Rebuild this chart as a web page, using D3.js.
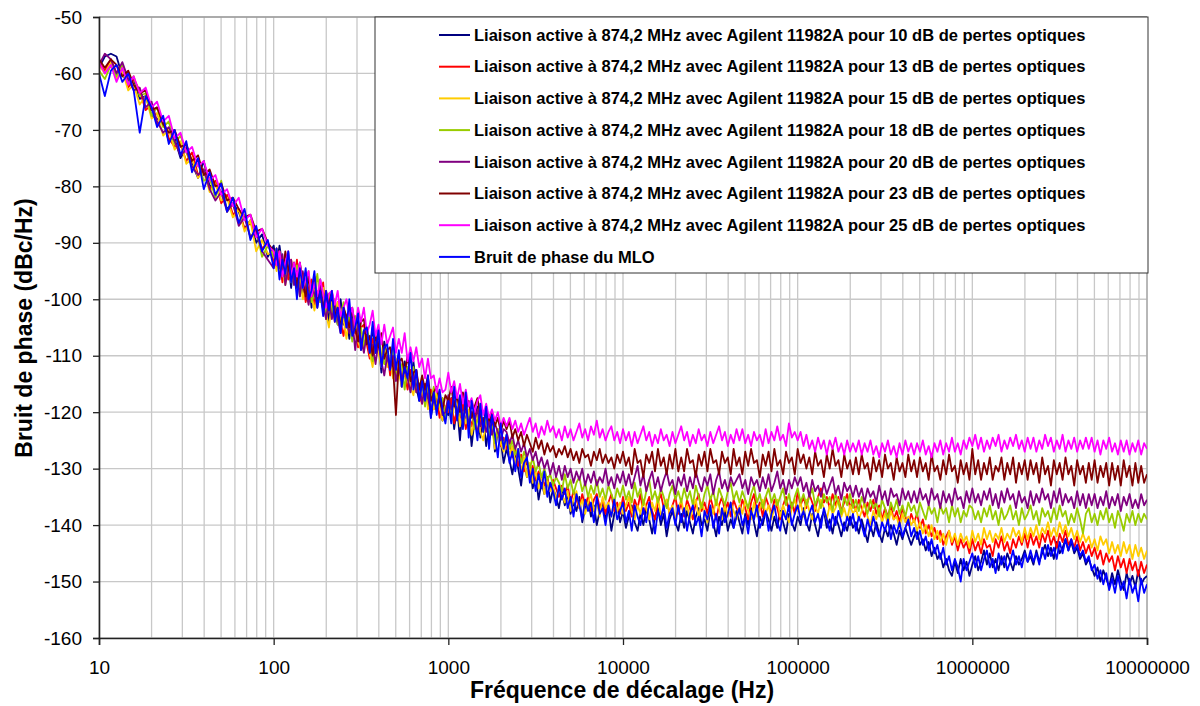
<!DOCTYPE html>
<html><head><meta charset="utf-8">
<script src="https://cdn.jsdelivr.net/npm/d3@7"></script>
<style>body{margin:0;background:#fff} svg{display:block} text{font-family:Arial,"Liberation Sans",sans-serif}</style>
</head><body><svg id="c" width="1200" height="706"></svg>
<script>
// Offset frequencies (Hz)
const freqs=[10,10.8,11.7,12.6,13.6,14.7,15.8,17.1,18.5,20,21.5,23.3,25.1,27.1,29.3,31.6,34.1,36.9,39.8,43,46.4,50.1,54.1,58.4,63.1,68.1,73.6,79.4,85.8,92.6,
100,103.9,108,112.2,116.6,121.2,125.9,130.8,135.9,141.3,146.8,152.5,158.5,164.7,171.1,177.8,184.8,192,199.5,207.3,215.4,223.9,232.6,241.7,251.2,261,271.2,281.8,292.9,304.3,316.2,328.6,341.5,354.8,368.7,383.1,398.1,413.7,429.9,446.7,464.2,482.3,501.2,520.8,541.2,562.3,584.3,607.2,631,655.6,681.3,707.9,735.6,764.3,794.3,825.4,857.7,891.3,926.1,962.4,
1000,1039,1080,1122,1166,1212,1259,1308,1359,1413,1468,1525,1585,1647,1711,1778,1848,1920,1995,2073,2154,2239,2326,2417,2512,2610,2712,2818,2929,3043,3162,3286,3415,3548,3687,3831,3981,4137,4299,4467,4642,4823,5012,5208,5412,5623,5843,6072,6310,6556,6813,7079,7356,7643,7943,8254,8577,8913,9261,9624,
10000,10390,10800,11220,11660,12120,12590,13080,13590,14130,14680,15250,15850,16470,17110,17780,18480,19200,19950,20730,21540,22390,23260,24170,25120,26100,27120,28180,29290,30430,31620,32860,34150,35480,36870,38310,39810,41370,42990,44670,46420,48230,50120,52080,54120,56230,58430,60720,63100,65560,68130,70790,73560,76430,79430,82540,85770,89130,92610,96240,
100000,103900,108000,112200,116600,121200,125900,130800,135900,141300,146800,152500,158500,164700,171100,177800,184800,192000,199500,207300,215400,223900,232600,241700,251200,261000,271200,281800,292900,304300,316200,328600,341500,354800,368700,383100,398100,413700,429900,446700,464200,482300,501200,520800,541200,562300,584300,607200,631000,655600,681300,707900,735600,764300,794300,825400,857700,891300,926100,962400,
1000000,1039000,1080000,1122000,1166000,1212000,1259000,1308000,1359000,1413000,1468000,1525000,1585000,1647000,1711000,1778000,1848000,1920000,1995000,2073000,2154000,2239000,2326000,2417000,2512000,2610000,2712000,2818000,2929000,3043000,3162000,3286000,3415000,3548000,3687000,3831000,3981000,4137000,4299000,4467000,4642000,4823000,5012000,5208000,5412000,5623000,5843000,6072000,6310000,6556000,6813000,7079000,7356000,7643000,7943000,8254000,8577000,8913000,9261000,9624000,
10000000];

const navy10=[-59,-57,-56.5,-57,-60.5,-61,-61,-64.5,-64,-67.5,
-68,-68.5,-72,-71.5,-75,-73,-76,-78.5,-75.5,-80,
-79.5,-81,-84,-83,-84.5,-87.5,-86,-90,-88.5,-92.5,
-90.5,-94,-90.5,-94,-96.5,-93.5,-98,-93.5,-97,-93.5,-99,-97.5,-96,-101.5,-98,-100.5,-96.5,-102,-99.5,-104,
-99.5,-102,-104.5,-100,-104.5,-103,-107,-102.5,-106,-103.5,-109,-105.5,-107,-109.5,-105,-109.5,-107.5,-113,-107.5,-110,
-112.5,-108,-112.5,-111,-115.5,-111,-113,-115.5,-111,-115.5,-118,-114.5,-118,-114.5,-121,-117.5,-119.5,-117,-121.5,-120,
-120.5,-117.5,-123,-119,-125,-118,-122.5,-120,-126,-121.5,-119,-124.5,-121,-126,-122.5,-120.5,-127,-123.5,-125,-129,
-126.5,-128.5,-131,-127.5,-130,-133,-128.5,-131.5,-129.5,-133.5,-131,-135.5,-132.5,-134.5,-131.5,-136,-133.5,-135,-137,-134,
-136.5,-134.5,-138,-136,-137.5,-135,-139.5,-137,-135.5,-138.5,-136.5,-140,-137.5,-136,-139,-137,-141,-138,-136.5,-139.5,
-137.5,-140.5,-138.5,-136.5,-139.5,-141,-138,-140,-137,-139,-141.5,-138.5,-137,-140,-138,-142,-139,-137.5,-139.5,-141,
-138,-140.5,-137.5,-139.5,-141.5,-138.5,-137,-140,-139,-141,-137.5,-139.5,-142,-138.5,-140,-137.5,-141,-139,-140.5,-137.5,
-139.5,-141.5,-138,-140,-137,-139.5,-142,-138.5,-140,-137.5,-139,-141,-138.5,-140.5,-137.5,-139.5,-141.5,-138,-139.5,-141,
-138.5,-140,-137,-139.5,-141,-138,-140,-142,-139,-137.5,-140.5,-139,-141.5,-138.5,-140,-142,-139.5,-141,-138.5,-140.5,
-139.5,-141.5,-139,-141,-143,-140,-142,-139.5,-141.5,-143,-140.5,-142,-140,-141.5,-143.5,-141,-142.5,-140.5,-142,-143.5,
-142,-141,-143.5,-142.5,-144.5,-143,-145.5,-144,-146,-145,-147.5,-146,-148,-149,-146.5,-148.5,-146,-148,-146.5,-149,
-147,-145.5,-148,-146.5,-144.5,-147,-145,-147.5,-146,-148,-145.5,-147.5,-145,-146.5,-148,-145.5,-147,-146,-144.5,-146.5,
-145.5,-147,-144.5,-146.5,-145,-143.5,-145.5,-144,-146,-143,-145,-144,-142.5,-144.5,-143,-145,-144,-146,-145,-147,
-146,-147.5,-149,-147.5,-150,-148,-149.5,-151,-148.5,-150.5,-148,-150,-151.5,-148.5,-150.5,-149,-151,-148,-150.5,-149.5,
-149];

const red13=[-58,-59.5,-57.5,-60,-59,-62.5,-61,-63,-66.5,-65.5,
-69,-68,-71.5,-73,-72.5,-75.5,-74,-78,-77,-80.5,
-79,-83,-81.5,-85,-84,-87.5,-86.5,-88,-91,-90,
-93.5,-91,-93.5,-97,-93.5,-96.5,-93,-96.5,-93,-98.5,-96,-100.5,-98,-96.5,-101,-98.5,-100.5,-97,-103.5,-101,
-100.5,-104,-100.5,-104,-106.5,-103,-102,-106.5,-105,-108.5,-105,-104.5,-108,-110.5,-107,-108.5,-106.5,-111,-110.5,-109,
-113.5,-110,-112.5,-110,-114.5,-113,-116,-112.5,-115,-112.5,-117,-118.5,-115,-117.5,-116,-119.5,-117.5,-121,-117.5,-120,
-120,-117.5,-122,-119.5,-121,-118.5,-123,-120.5,-122.5,-119.5,-124,-121,-123.5,-120.5,-125,-122,-124.5,-123,-126,-124.5,
-126.5,-125,-128,-126.5,-129.5,-127.5,-130.5,-128.5,-131,-129.5,-132,-130.5,-131.5,-133,-131.5,-134,-132,-133.5,-135,-133,
-134.5,-133,-136,-134,-135.5,-137,-134.5,-136.5,-135,-137.5,-135.5,-134.5,-137,-135.5,-138,-136,-134.5,-137.5,-136,-138,
-135,-137.5,-136,-138.5,-135.5,-137,-134.5,-138,-136.5,-135,-137.5,-139,-136,-134.5,-137,-135.5,-138,-136.5,-135,-138,
-136,-138.5,-135.5,-137,-139,-136,-134.5,-137.5,-136,-138,-135,-137,-139,-136.5,-135,-137.5,-136,-138.5,-135.5,-137,
-138,-135.5,-137,-139,-136,-134.5,-137.5,-136,-138.5,-135,-136.5,-138,-135.5,-137,-139,-136.5,-135,-137.5,-136,-138,
-134,-136.5,-135,-137,-134.5,-136,-137.5,-135,-133.5,-136,-135,-137,-134.5,-136.5,-135,-137.5,-136,-134.5,-137,-135.5,
-137.5,-135.5,-137,-138.5,-136,-137.5,-135.5,-138,-136.5,-139,-137,-138.5,-136.5,-139,-137.5,-139.5,-137,-138.5,-140,-138,
-139.5,-138,-140.5,-139,-141.5,-140,-142,-140.5,-142.5,-141,-143.5,-142,-141,-143.5,-142,-144.5,-142.5,-144,-143,-145,
-142.5,-144.5,-143,-145,-142.5,-144,-143.5,-145.5,-142.5,-144,-142,-144.5,-143,-145,-142.5,-144,-142,-143.5,-141.5,-144,
-141.5,-143.5,-142,-144,-141.5,-143,-141,-143.5,-142,-144,-141.5,-143,-141,-143.5,-142.5,-144,-142,-144.5,-143,-145,
-143.5,-145.5,-144,-146,-144.5,-147,-145,-146.5,-145.5,-148,-145.5,-147.5,-146,-148.5,-146,-148,-146.5,-149,-146.5,-148.5,
-147];

const yellow15=[-58.5,-60,-58,-61,-59.5,-63,-62,-65.5,-64,-68,
-67,-71,-70,-73.5,-72,-76,-75,-78.5,-77,-81,
-79.5,-82.5,-82,-85.5,-84,-88,-86,-91.5,-89.5,-92,
-91.5,-95,-91.5,-95,-97.5,-93.5,-95,-93.5,-98,-95.5,-100,-97.5,-96,-99.5,-102,-98.5,-100.5,-98,-102.5,-105,
-100.5,-103,-100.5,-105,-103.5,-107,-103,-105.5,-103,-107.5,-109,-106.5,-106,-109.5,-112,-107.5,-109.5,-112,-108.5,-112,
-110.5,-114,-110.5,-113,-115.5,-113,-112,-115.5,-117,-113.5,-116,-117.5,-115,-119.5,-117,-119.5,-116.5,-119,-121.5,-119,
-118.5,-121.5,-119,-117.5,-122.5,-120,-122,-119.5,-124,-121.5,-120,-123.5,-125,-121.5,-124,-122.5,-126.5,-123,-125.5,-127,
-125,-127.5,-126,-129,-127,-130.5,-128,-131.5,-129,-132.5,-130.5,-133.5,-131,-134.5,-132,-134,-133,-135.5,-133.5,-134.5,
-136,-134,-137.5,-135.5,-134,-137,-135.5,-138,-136,-134.5,-137.5,-136,-138.5,-135,-137,-136,-138.5,-135.5,-137.5,-136,
-138,-136.5,-135,-137.5,-139,-136.5,-138,-135.5,-137,-139,-136,-137.5,-135,-138.5,-137,-135.5,-138,-136.5,-139,-137,
-135.5,-138,-136.5,-139,-137,-135.5,-138.5,-136,-137.5,-139.5,-136.5,-138,-135.5,-137,-139,-136.5,-138.5,-136,-137.5,-139,
-136.5,-138,-135.5,-137.5,-139,-136,-138.5,-137,-135.5,-138,-136.5,-139,-137,-135.5,-138.5,-136.5,-138,-139.5,-137,-135.5,
-137.5,-136,-138.5,-135.5,-137.5,-139,-136.5,-138,-135.5,-137,-139,-136.5,-138,-137,-135.5,-138.5,-137,-139,-136.5,-138,
-137,-139,-137.5,-136,-138.5,-140,-137.5,-139,-137,-139.5,-138,-140,-137.5,-139,-138.5,-140.5,-138,-139.5,-138.5,-140,
-139,-141,-139.5,-141.5,-140,-142,-140,-142.5,-141,-143,-141.5,-143.5,-141,-143,-141.5,-143.5,-141.5,-143,-142,-144,
-141,-143,-141.5,-143.5,-140.5,-142.5,-141,-143,-141.5,-142.5,-140.5,-143,-141.5,-142.5,-140.5,-142,-141,-143,-140.5,-142.5,
-140.5,-142,-140,-142.5,-140.5,-141.5,-139.5,-142,-140.5,-142,-139.5,-141.5,-140,-142,-140.5,-142.5,-141,-143,-141.5,-143,
-142,-144,-142.5,-144.5,-142,-143.5,-142.5,-145,-143,-145,-143.5,-145.5,-143,-145,-143.5,-146,-143.5,-145.5,-144,-146,
-144.5];

const green18=[-59.5,-61,-58.5,-60.5,-58.5,-62,-60.5,-64,-63.5,-67.5,
-66,-69.5,-68.5,-72.5,-71,-74,-76.5,-76,-79,-78.5,
-82,-79,-84.5,-83,-86.5,-85,-89,-87.5,-92.5,-90.5,
-92.5,-91,-95.5,-93,-95.5,-91.5,-97,-95.5,-94,-99.5,-96,-98.5,-95,-100.5,-99,-95.5,-100.5,-99,-103.5,-99,
-102.5,-100,-104.5,-103,-100.5,-105,-103,-107.5,-103,-106.5,-105,-108.5,-105,-107.5,-111,-107.5,-105.5,-110,-111.5,-109,
-111.5,-109,-113.5,-112,-111.5,-116,-112,-114.5,-112,-116.5,-115,-114.5,-119,-115.5,-118,-115.5,-119.5,-118,-117.5,-121,
-118,-120.5,-117,-121,-119.5,-122,-118.5,-121.5,-120,-123,-121.5,-119.5,-123.5,-121,-124,-122.5,-125.5,-123,-124.5,-126,
-124,-126.5,-125,-127.5,-126.5,-129,-127,-128.5,-130,-128,-130.5,-129,-131.5,-130,-132,-131,-133,-131.5,-132.5,-134,
-131,-133.5,-132,-134.5,-132.5,-131.5,-134,-132.5,-135,-133,-134.5,-132,-135,-133.5,-135.5,-133,-134.5,-136,-133.5,-135,
-133,-135.5,-134,-136,-132.5,-135,-133.5,-136.5,-134,-132,-135.5,-134,-136,-133.5,-135,-137,-134.5,-133,-135.5,-134,
-136,-133.5,-135.5,-134,-136.5,-133,-135,-137,-134.5,-133,-135.5,-134,-136.5,-133.5,-135,-136.5,-134,-132.5,-135.5,-134,
-136,-134,-135.5,-137,-134.5,-133,-136,-134.5,-137,-135,-133.5,-136,-134.5,-136.5,-135,-133.5,-136.5,-134.5,-137,-135,
-133.5,-136,-134.5,-136.5,-135,-133.5,-136.5,-135,-137,-134.5,-136,-135,-137.5,-134.5,-136,-138,-135,-136.5,-134.5,-137,
-135.5,-137.5,-135,-136.5,-138,-135.5,-137,-136,-138.5,-135.5,-137,-139,-136,-137.5,-135.5,-138,-136.5,-138.5,-136,-137.5,
-136.5,-138.5,-136,-137.5,-139,-136.5,-138,-137,-139.5,-136.5,-138,-137,-139.5,-136.5,-138.5,-137,-139.5,-137.5,-138.5,-136.5,
-137,-139,-137.5,-139.5,-137,-138.5,-136.5,-139,-137.5,-140,-137,-139,-138,-136.5,-139,-137.5,-140,-137,-139,-138,
-136.5,-139,-137.5,-140,-137,-138.5,-137.5,-139.5,-137,-139,-136.5,-138.5,-137.5,-140,-138,-139.5,-137,-139,-141.5,-138,
-137,-139.5,-138,-140,-137.5,-139,-137,-139.5,-138,-140.5,-137.5,-139,-141,-138,-139.5,-137.5,-140,-138,-139.5,-138,
-139];

const purple20=[-58.5,-56.5,-57.5,-60,-58,-61,-63,-62.5,-66,-65,
-68.5,-70.5,-69.5,-72,-74.5,-73.5,-76.5,-78,-77,-80.5,
-82.5,-81,-84.5,-83,-87,-85.5,-89,-88,-91.5,-93,
-94.5,-92,-94.5,-92,-97.5,-94.5,-93,-97.5,-95,-99.5,-95,-98.5,-101,-97.5,-99,-101.5,-97.5,-101,-103.5,-100,
-103.5,-101,-103.5,-106,-101.5,-104,-106,-103.5,-109,-104.5,-107,-109.5,-106,-109.5,-108,-111.5,-107.5,-111,-113.5,-110,
-112.5,-110,-114.5,-112,-114.5,-112,-114,-116.5,-113,-116.5,-115,-118.5,-115,-117.5,-120,-117.5,-119.5,-117,-120.5,-120,
-117,-119.5,-118,-120.5,-117.5,-121,-119.5,-122,-120,-121.5,-119.5,-122.5,-121,-123.5,-121.5,-124,-122,-123.5,-125,-123,
-123.5,-125.5,-124,-126.5,-125,-127,-125.5,-128,-126.5,-128.5,-127,-129.5,-128,-130,-128.5,-131,-129,-131.5,-129.5,-132,
-129.5,-131.5,-130,-132.5,-130.5,-132,-130,-133,-131,-132.5,-130.5,-133,-131.5,-132.5,-130,-133,-131.5,-133.5,-131,-132.5,
-130.5,-133,-131,-133.5,-131.5,-129.5,-133,-131,-134,-132,-130.5,-133.5,-131.5,-134,-132,-130.5,-133,-132,-134.5,-131.5,
-133,-131,-134,-131.5,-133.5,-130.5,-132.5,-134,-131.5,-133,-131,-134.5,-132,-130.5,-133.5,-132,-134,-131.5,-133,-132,
-131,-133.5,-132,-134.5,-131.5,-133,-132,-134,-131.5,-133.5,-131,-134,-132.5,-130.5,-133.5,-132,-134.5,-132,-133.5,-131.5,
-133,-131.5,-134,-132.5,-135,-132,-134,-133,-135,-132.5,-134.5,-133,-131.5,-134.5,-133,-135.5,-132.5,-134,-133,-135,
-133,-135,-133.5,-136,-133.5,-135,-134,-136,-133,-135.5,-134,-136.5,-133.5,-135,-134.5,-136.5,-133.5,-135.5,-134,-136,
-134,-136,-133.5,-135.5,-134.5,-136.5,-133.5,-135.5,-134.5,-137,-134,-136,-134.5,-136.5,-133.5,-135.5,-135,-137,-134,-136,
-133.5,-136,-134.5,-136.5,-134,-135.5,-133.5,-136.5,-134.5,-137,-134,-136,-133.5,-135.5,-134.5,-137,-134,-136,-135,-137,
-134,-136.5,-134.5,-136,-133.5,-135.5,-134.5,-137,-134,-136,-133.5,-136.5,-134.5,-136,-135,-137,-134,-136.5,-134.5,-137,
-134.5,-136.5,-134.5,-137,-135,-136.5,-134,-137,-135,-136.5,-134.5,-137.5,-135,-136.5,-134.5,-137,-135.5,-137,-134.5,-136.5,
-135.5];

const maroon23=[-57.5,-59,-57.5,-58.5,-60.5,-59.5,-62,-63.5,-63,-66.5,
-66,-69,-70.5,-70,-73,-72.5,-75.5,-74.5,-78,-77,
-80,-79.5,-82.5,-82,-84,-85.5,-85,-88,-87.5,-90,
-91.5,-94,-91.5,-96,-91.5,-94.5,-96,-93.5,-98,-93.5,-97,-99.5,-96,-99.5,-96,-100.5,-98.5,-102,-98.5,-101,
-98.5,-103,-101.5,-105,-101.5,-103,-105,-101.5,-105,-107.5,-104,-103.5,-108,-106.5,-110,-106.5,-108.5,-106,-110.5,-109,
-108.5,-112,-120.5,-111,-110.5,-113,-110,-114.5,-113,-112.5,-116,-113.5,-116,-113.5,-118,-116.5,-115.5,-118,-119.5,-117,
-118,-115.5,-119,-117,-120,-116.5,-119.5,-118,-121,-119,-117.5,-120.5,-122,-119.5,-121.5,-120,-122.5,-121,-123.5,-121.5,
-123,-121.5,-124.5,-123,-125,-123.5,-126,-124,-125.5,-127,-124.5,-126.5,-125,-127.5,-125.5,-127,-126,-128,-126.5,-127.5,
-126,-128,-126.5,-128.5,-127,-129,-126.5,-128,-127.5,-129.5,-127,-128.5,-126.5,-129,-127.5,-129,-128,-130,-127.5,-129,
-127,-129.5,-128,-131,-126.5,-129,-128.5,-131.5,-127.5,-129,-127,-130.5,-126.5,-129.5,-128,-131,-127.5,-130,-126.5,-130.5,
-128,-130.5,-126.5,-129,-128.5,-131.5,-127.5,-129.5,-127,-130.5,-126.5,-129,-128.5,-131,-127,-129,-128,-131,-126.5,-129.5,
-128,-131,-127,-129.5,-126.5,-129,-128.5,-131.5,-127.5,-129.5,-127,-130.5,-126.5,-129.5,-128.5,-131,-127,-129,-128,-131,
-126.5,-129,-127.5,-130,-128,-131,-127,-129.5,-128.5,-131.5,-127.5,-130,-126.5,-129.5,-128.5,-131.5,-127.5,-130,-128.5,-131,
-128,-131,-127.5,-130,-129,-132,-128,-130.5,-128.5,-131.5,-127.5,-130,-129,-132,-128,-130.5,-129,-131.5,-127.5,-130.5,
-128.5,-131.5,-128,-130.5,-129,-132,-127.5,-130.5,-129.5,-132,-128.5,-131,-127.5,-130.5,-129.5,-132.5,-128.5,-131,-129,-132,
-126.5,-131,-128.5,-132,-129,-131,-128,-132,-129.5,-130.5,-128,-132,-129,-131,-128,-132.5,-129,-131,-128.5,-132,
-128.5,-131,-129,-132.5,-128,-131,-129.5,-133,-128.5,-131,-129,-132,-128,-131,-129.5,-133,-128.5,-131,-129.5,-132.5,
-129,-132,-128.5,-132.5,-129.5,-131.5,-129,-133,-129,-132,-129.5,-133,-128.5,-131.5,-129.5,-133,-129,-132.5,-129.5,-132.5,
-131];

const magenta25=[-58,-60,-58.5,-61.5,-59,-62,-60.5,-63.5,-62.5,-66,
-65,-68.5,-67.5,-71.5,-70.5,-74,-73,-76.5,-75.5,-79,
-78,-81.5,-80.5,-83.5,-82,-86,-85,-89,-87.5,-90.5,
-91.5,-94,-91.5,-96,-93.5,-91.5,-96,-93.5,-96,-93.5,-98,-96.5,-95,-99.5,-97,-99.5,-96.5,-99,-101.5,-99,
-98.5,-101,-98.5,-103,-101.5,-100,-103,-101.5,-105,-101.5,-104,-101.5,-106,-104.5,-102,-106.5,-104.5,-108,-104.5,-108,
-106.5,-105,-109.5,-107,-109.5,-106,-111,-108.5,-111,-108.5,-112,-110.5,-114,-110.5,-114,-113.5,-116.5,-114,-116.5,-116,
-113,-116.5,-114.5,-117.5,-115,-118.5,-116,-119,-117.5,-120,-118,-117,-120.5,-118.5,-121,-119.5,-121.5,-120,-122.5,-121,
-122.5,-121,-123,-121.5,-123.5,-122,-124,-122.5,-121,-123.5,-122,-124.5,-122.5,-124,-121.5,-123.5,-122.5,-124.5,-123,-125,
-122.5,-124.5,-123,-125,-123.5,-122,-124.5,-123,-125,-122.5,-124,-121.5,-124.5,-123,-125,-123.5,-122.5,-125,-123.5,-125.5,
-123,-125,-123.5,-126,-123.5,-125.5,-124,-122.5,-125,-123.5,-126,-124,-125.5,-123,-125,-124,-126,-123.5,-125.5,-124,
-122.5,-125,-123.5,-126,-124,-125.5,-123,-125,-124,-126,-123.5,-125.5,-124,-122.5,-125,-123.5,-126,-124,-125.5,-123,
-125,-123,-125.5,-124,-126,-123.5,-125,-124,-126,-123,-125.5,-123.5,-125,-122.5,-125,-124,-126,-122,-124.5,-123.5,
-125,-123.5,-126,-124,-126.5,-125,-127,-124.5,-126.5,-125,-127.5,-125,-126.5,-124.5,-127,-125.5,-127.5,-125,-127,-125.5,
-127,-125,-127.5,-125.5,-127,-125,-127.5,-126,-128,-125.5,-127,-125,-127.5,-126,-128,-125.5,-127.5,-125,-127,-125.5,
-127.5,-125.5,-127,-125,-127.5,-126,-128,-125.5,-127,-125,-127.5,-125.5,-127,-124.5,-127,-125.5,-127.5,-125,-126.5,-124.5,
-126,-124,-126.5,-124.5,-127,-125,-126.5,-124.5,-126,-124,-127,-125,-126.5,-124.5,-126,-124,-126.5,-125,-127,-124.5,
-126.5,-124.5,-127,-125,-126.5,-124,-126,-124.5,-127,-125,-126.5,-124,-127,-125,-126.5,-124.5,-127,-125,-126.5,-124.5,
-126.5,-124.5,-127,-125,-127.5,-125,-126.5,-124.5,-127,-125.5,-127.5,-125,-127,-125,-127.5,-125.5,-127,-125,-127.5,-125.5,
-126.5];

const mlo=[-60,-64,-59.5,-58.5,-61.5,-60,-63,-70.5,-64,-66,
-69.5,-67.5,-72.5,-70,-74.5,-72,-77.5,-75,-80.5,-77.5,
-81.5,-79.5,-84.5,-82,-86.5,-84,-89.5,-87,-91.5,-89.5,
-94.5,-91,-96.5,-93,-95.5,-91.5,-97,-94.5,-100,-94.5,-98,-94.5,-100,-98.5,-95,-101.5,-98.5,-103,-98.5,-102,
-98.5,-104,-101.5,-106,-101.5,-105,-100,-106.5,-105,-102.5,-109,-105.5,-105,-109.5,-104,-109.5,-105.5,-112,-108.5,-108,
-112.5,-107,-112.5,-109,-115.5,-112,-114,-109.5,-116,-112.5,-118,-114.5,-118,-113.5,-121,-116.5,-120.5,-116,-119.5,-122,
-118,-122,-115.5,-121.5,-117,-123,-116.5,-124.5,-118,-121,-125,-118.5,-123.5,-119,-126.5,-120.5,-124,-128,-122,-126.5,
-124,-129,-127,-130.5,-126.5,-131.5,-129,-128,-132.5,-130,-134,-131,-133.5,-130.5,-135,-132.5,-134,-136.5,-133,-135.5,
-133.5,-137,-135,-138.5,-134.5,-136.5,-139,-135.5,-137.5,-136,-139.5,-135,-138,-137,-140,-136.5,-138.5,-135.5,-139,-137.5,
-136,-139.5,-137.5,-141,-136.5,-138.5,-140,-137,-139.5,-136,-138,-141.5,-137.5,-139,-136.5,-140.5,-138,-137,-140,-136.5,
-139.5,-137,-141,-138,-136.5,-140,-138.5,-142,-137.5,-139,-136.5,-140.5,-138,-141.5,-137,-139.5,-138,-136,-140.5,-138.5,
-137,-140,-138.5,-141.5,-137.5,-139,-136.5,-140.5,-139,-137.5,-141,-138,-136.5,-139.5,-141,-137.5,-139,-136.5,-140,-138,
-136.5,-139,-137.5,-140,-138,-136.5,-139.5,-138,-140.5,-137,-139,-141,-138,-140,-137.5,-139.5,-141,-138.5,-140,-138,
-141,-138.5,-140,-142,-139,-141,-138.5,-140.5,-142,-139.5,-141,-139,-142.5,-140,-141.5,-139.5,-142,-140.5,-139,-142,
-140.5,-142.5,-141,-143.5,-142,-144.5,-142.5,-145,-143.5,-146,-144,-147,-145.5,-148,-146,-147.5,-150,-146,-148,-146.5,
-145,-147.5,-145.5,-148,-146,-144.5,-147.5,-146,-148.5,-145,-147,-145.5,-148,-146.5,-144.5,-147,-145.5,-147.5,-145,-146.5,
-144.5,-146.5,-145,-147,-144,-146,-143.5,-145.5,-144,-146,-143,-145,-142.5,-144.5,-142.5,-144.5,-143.5,-145.5,-144.5,-146.5,
-145.5,-148,-147,-149.5,-148,-150.5,-148.5,-151.5,-149.5,-152,-149,-151.5,-150,-153,-149.5,-152,-150.5,-153.5,-149.5,-152,
-150.5];

const seriesValues=[navy10,red13,yellow15,green18,purple20,maroon23,magenta25,mlo];
const seriesNames=[
"Liaison active à 874,2 MHz avec Agilent 11982A pour 10 dB de pertes optiques",
"Liaison active à 874,2 MHz avec Agilent 11982A pour 13 dB de pertes optiques",
"Liaison active à 874,2 MHz avec Agilent 11982A pour 15 dB de pertes optiques",
"Liaison active à 874,2 MHz avec Agilent 11982A pour 18 dB de pertes optiques",
"Liaison active à 874,2 MHz avec Agilent 11982A pour 20 dB de pertes optiques",
"Liaison active à 874,2 MHz avec Agilent 11982A pour 23 dB de pertes optiques",
"Liaison active à 874,2 MHz avec Agilent 11982A pour 25 dB de pertes optiques",
"Bruit de phase du MLO"];
const seriesColors=["#000080","#ff0000","#ffcc00","#99cc00","#800080","#800000","#ff00ff","#0000ff"];
const yTicks=[-160,-150,-140,-130,-120,-110,-100,-90,-80,-70,-60,-50];
const xTicks=[10,100,1000,10000,100000,1000000,10000000];
const xTickLabels=["10","100","1000","10000","100000","1000000","10000000"];
const xTitle="Fréquence de décalage (Hz)";
const yTitle="Bruit de phase (dBc/Hz)";

const svg=d3.select("#c");
const L=99,R=1147,T=17,B=638;
const x=d3.scaleLog().domain([10,1e7]).range([L,R]);
const y=d3.scaleLinear().domain([-160,-50]).range([B,T]);

// grid
const g=svg.append("g");
g.selectAll("line.vx").data(x.ticks()).join("line")
 .attr("x1",d=>x(d)).attr("x2",d=>x(d)).attr("y1",T).attr("y2",B)
 .attr("stroke","#c8c8c8").attr("stroke-width",1.3);
g.selectAll("line.hy").data(yTicks).join("line")
 .attr("x1",L).attr("x2",R).attr("y1",d=>y(d)).attr("y2",d=>y(d))
 .attr("stroke","#c8c8c8").attr("stroke-width",1.3);
svg.append("line").attr("x1",L).attr("x2",R).attr("y1",T).attr("y2",T).attr("stroke","#808080").attr("stroke-width",1.2);
svg.append("line").attr("x1",R).attr("x2",R).attr("y1",T).attr("y2",B).attr("stroke","#a0a0a0").attr("stroke-width",1.2);

svg.append("defs").append("clipPath").attr("id","clip").append("rect")
 .attr("x",L).attr("y",T).attr("width",R-L).attr("height",B-T);

const line=d3.line().defined((d,i)=>freqs[i]!==undefined).x((d,i)=>x(freqs[i])).y(d=>y(d));
svg.append("g").attr("clip-path","url(#clip)").selectAll("path").data(seriesValues).join("path")
 .attr("d",d=>line(d)).attr("fill","none").attr("stroke",(d,i)=>seriesColors[i])
 .attr("stroke-width",1.8).attr("stroke-linejoin","round");

// axes
const ya=d3.axisLeft(y).tickValues(yTicks).tickSize(6).tickPadding(11).tickFormat(d=>d);
const yg=svg.append("g").attr("transform",`translate(${L},0)`).call(ya);
const xa=d3.axisBottom(x).tickValues(xTicks).tickSize(7).tickPadding(16).tickFormat((d,i)=>xTickLabels[i]);
const xg=svg.append("g").attr("transform",`translate(0,${B})`).call(xa);
[yg,xg].forEach(a=>{a.select(".domain").attr("stroke","#222").attr("stroke-width",1.6);
 a.selectAll(".tick line").attr("stroke","#222").attr("stroke-width",1.3);
 a.selectAll(".tick text").attr("font-size",19).attr("fill","#000").attr("font-family","Arial, 'Liberation Sans', sans-serif");});

svg.append("text").attr("x",622).attr("y",698).attr("text-anchor","middle")
 .attr("font-size",23).attr("font-weight","bold").text(xTitle);
svg.append("text").attr("transform","translate(32,328) rotate(-90)").attr("text-anchor","middle")
 .attr("font-size",23).attr("font-weight","bold").text(yTitle);

// legend
const lg=svg.append("g");
lg.append("rect").attr("x",375).attr("y",17).attr("width",773).attr("height",256)
 .attr("fill","#fff").attr("stroke","#333").attr("stroke-width",1);
const items=lg.selectAll("g.it").data(seriesNames).join("g")
 .attr("transform",(d,i)=>`translate(0,${35+i*31.7})`);
items.append("line").attr("x1",439).attr("x2",470).attr("y1",0).attr("y2",0)
 .attr("stroke",(d,i)=>seriesColors[i]).attr("stroke-width",2);
items.append("text").attr("x",474).attr("y",0).attr("dy","0.35em")
 .attr("font-size",16.5).attr("font-weight","bold").text(d=>d);
</script></body></html>
